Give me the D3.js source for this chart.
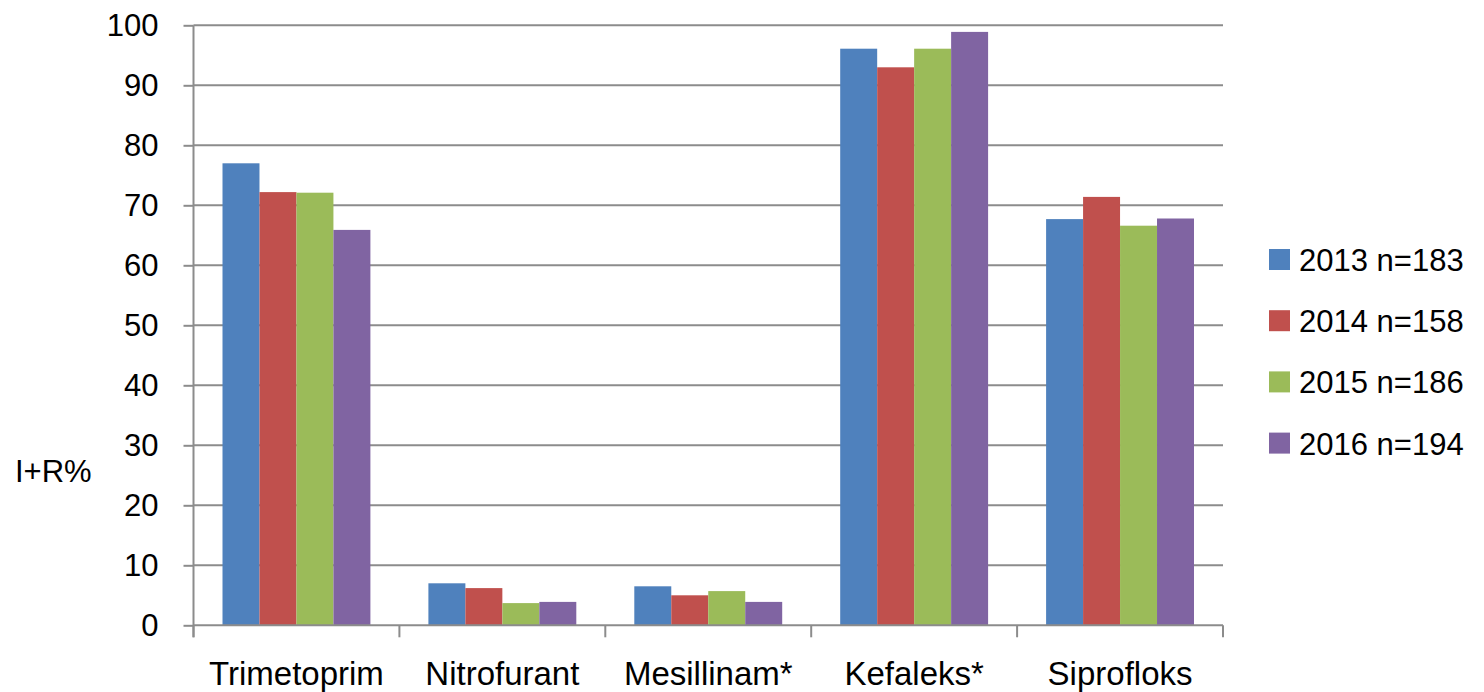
<!DOCTYPE html>
<html><head><meta charset="utf-8">
<script src="https://cdn.jsdelivr.net/npm/d3@7"></script>
<style>body{margin:0;background:#fff;} svg{display:block;} text{font-family:"Liberation Sans",Arial,sans-serif;fill:#000;}</style>
</head><body><svg id="c" width="1484" height="692"></svg>
<script>
const categories = ["Trimetoprim","Nitrofurant","Mesillinam*","Kefaleks*","Siprofloks"];
const seriesNames = ["2013 n=183","2014 n=158","2015 n=186","2016 n=194"];
const s2013 = [77.0, 7.0, 6.5, 96.1, 67.7];
const s2014 = [72.2, 6.2, 5.0, 93.0, 71.4];
const s2015 = [72.1, 3.7, 5.7, 96.1, 66.6];
const s2016 = [65.9, 3.9, 3.9, 98.9, 67.8];
const colors = ["#4F81BD","#C0504D","#9BBB59","#8064A2"];
const yTicks = [0,10,20,30,40,50,60,70,80,90,100];
const series = [s2013, s2014, s2015, s2016];

(function(){
const svg = d3.select("#c");
const mLeft = 193.5, mRight = 1223, mTop = 25.3, mBottom = 625.3;
const x = d3.scaleBand().domain(categories).range([mLeft, mRight]).padding(0);
const x1 = d3.scaleBand().domain(d3.range(4)).range([29, x.bandwidth()-29]).padding(0);
const y = d3.scaleLinear().domain([0,100]).range([mBottom, mTop]);

// gridlines
svg.append("g").selectAll("line").data(yTicks.filter(t=>t>0)).join("line")
  .attr("x1", mLeft).attr("x2", mRight).attr("y1", d=>y(d)).attr("y2", d=>y(d))
  .attr("stroke", "#8c8c8c").attr("stroke-width", 2);

// bars
categories.forEach((c, ci) => {
  series.forEach((s, si) => {
    svg.append("rect")
      .attr("x", x(c) + x1(si)).attr("width", x1.bandwidth())
      .attr("y", y(s[ci])).attr("height", y(0) - y(s[ci]))
      .attr("fill", colors[si]);
  });
});

// y axis
const ya = svg.append("g").attr("transform", `translate(${mLeft},0)`)
  .call(d3.axisLeft(y).tickValues(yTicks).tickSize(10).tickPadding(25));
ya.selectAll("line").attr("stroke", "#8c8c8c").attr("stroke-width", 2);
ya.select(".domain").attr("stroke", "#8c8c8c").attr("stroke-width", 2).attr("d", `M0,${y(100)}V${y(0)+12}`);
ya.selectAll("text").style("font-size", "31px").style("font-family", '"Liberation Sans",Arial,sans-serif').attr("fill", "#000");

// x axis
const xa = svg.append("g").attr("transform", `translate(0,${mBottom})`)
  .call(d3.axisBottom(x).tickSize(0).tickPadding(36));
xa.select(".domain").attr("stroke", "#8c8c8c").attr("stroke-width", 2).attr("d", `M${mLeft},0H${mRight}`);
xa.selectAll("text").style("font-size", "33px").style("font-family", '"Liberation Sans",Arial,sans-serif').attr("fill", "#000");
// category boundary ticks
const bounds = categories.map(c => x(c)).concat([mRight]);
svg.append("g").selectAll("line").data(bounds).join("line")
  .attr("x1", d=>d).attr("x2", d=>d).attr("y1", mBottom).attr("y2", mBottom+12)
  .attr("stroke", "#8c8c8c").attr("stroke-width", 2);

// y title
svg.append("text").attr("x", 15).attr("y", 482).style("font-size", "31px").text("I+R%");

// legend
const lg = svg.append("g");
seriesNames.forEach((n, i) => {
  const cy = 259.5 + i*61.2;
  lg.append("rect").attr("x", 1269).attr("y", cy-10.5).attr("width", 21).attr("height", 21).attr("fill", colors[i]);
  lg.append("text").attr("x", 1299).attr("y", cy+11.5).style("font-size", "31px").text(n);
});
})();
</script></body></html>
